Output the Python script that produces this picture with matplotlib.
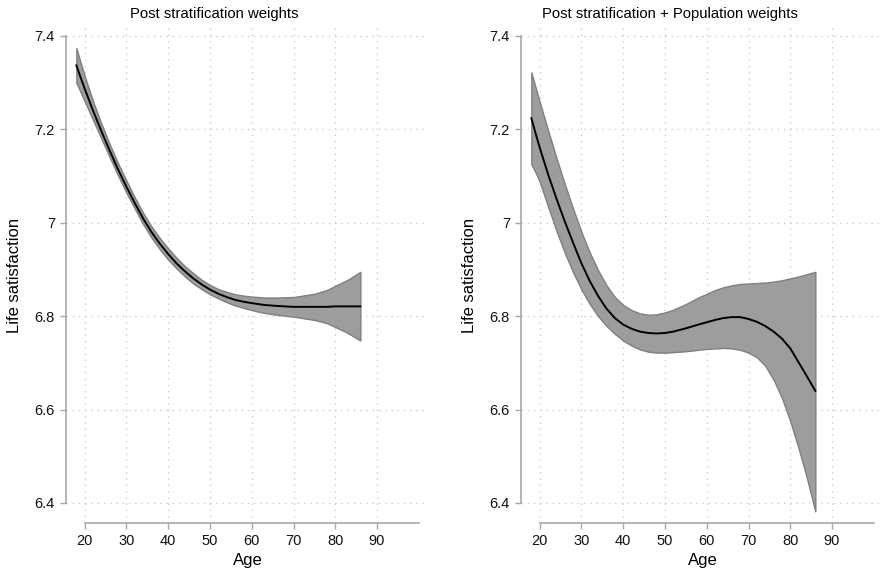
import matplotlib
matplotlib.use("Agg")
import matplotlib.pyplot as plt

plt.rcParams['font.family'] = ['Liberation Sans', 'DejaVu Sans']

# Panel 1: post stratification weights
age_l = [18, 20, 22, 24, 26, 28, 30, 32, 34, 36, 38, 40, 42, 44, 46, 48, 50,
         52, 54, 56, 58, 60, 63, 66, 70, 75, 78, 80, 83, 86]
fit_l = [7.337, 7.287, 7.240, 7.196, 7.154, 7.114, 7.077, 7.042, 7.009, 6.980,
         6.955, 6.933, 6.913, 6.896, 6.881, 6.868, 6.857, 6.848, 6.841, 6.835,
         6.831, 6.828, 6.824, 6.822, 6.820, 6.820, 6.820, 6.821, 6.821, 6.821]
hi_l = [7.374, 7.314, 7.260, 7.212, 7.168, 7.127, 7.090, 7.054, 7.021, 6.992,
        6.967, 6.945, 6.925, 6.907, 6.892, 6.878, 6.867, 6.858, 6.852, 6.847,
        6.844, 6.842, 6.840, 6.840, 6.841, 6.848, 6.856, 6.865, 6.878, 6.895]
lo_l = [7.300, 7.260, 7.220, 7.180, 7.140, 7.101, 7.064, 7.030, 6.997, 6.968,
        6.943, 6.921, 6.902, 6.885, 6.870, 6.858, 6.847, 6.838, 6.830, 6.823,
        6.818, 6.813, 6.807, 6.803, 6.799, 6.792, 6.785, 6.777, 6.764, 6.748]

# Panel 2: post stratification + population weights
age_r = [18, 19, 20, 22, 24, 26, 28, 30, 32, 34, 36, 38, 40, 42, 44, 46, 48,
         50, 52, 55, 58, 60, 62, 64, 66, 68, 70, 72, 74, 76, 78, 80, 82, 84, 86]
fit_r = [7.224, 7.192, 7.161, 7.104, 7.052, 7.003, 6.957, 6.913, 6.875, 6.843,
         6.816, 6.796, 6.782, 6.773, 6.767, 6.764, 6.763, 6.764, 6.767, 6.774,
         6.782, 6.787, 6.792, 6.796, 6.798, 6.798, 6.794, 6.788, 6.779, 6.767,
         6.752, 6.731, 6.701, 6.671, 6.640]
hi_r = [7.322, 7.290, 7.259, 7.198, 7.139, 7.083, 7.030, 6.980, 6.936, 6.898,
        6.866, 6.841, 6.824, 6.813, 6.806, 6.803, 6.804, 6.808, 6.814, 6.826,
        6.840, 6.848, 6.856, 6.862, 6.866, 6.869, 6.870, 6.871, 6.872, 6.874,
        6.877, 6.881, 6.885, 6.890, 6.895]
lo_r = [7.126, 7.108, 7.088, 7.035, 6.983, 6.936, 6.894, 6.857, 6.826, 6.800,
        6.779, 6.762, 6.748, 6.737, 6.729, 6.724, 6.722, 6.722, 6.723, 6.725,
        6.728, 6.730, 6.731, 6.732, 6.731, 6.728, 6.722, 6.712, 6.694, 6.664,
        6.625, 6.575, 6.517, 6.453, 6.382]

titles = ['Post stratification weights', 'Post stratification + Population weights']
xticks = [20, 30, 40, 50, 60, 70, 80, 90]
yticks = [6.4, 6.6, 6.8, 7.0, 7.2, 7.4]
ylabels = ['6.4', '6.6', '6.8', '7', '7.2', '7.4']

fig = plt.figure(figsize=(8.83, 5.71), dpi=100)
panels = [(age_l, fit_l, hi_l, lo_l), (age_r, fit_r, hi_r, lo_r)]
lefts = [66 / 883, 521 / 883]
title_x = [214 / 883, 669.5 / 883]

for i, (age, fit, hi, lo) in enumerate(panels):
    ax = fig.add_axes([lefts[i], 1 - 522.7 / 571, 362 / 883, 494.7 / 571])
    ax.fill_between(age, lo, hi, facecolor='#9c9d9c', edgecolor='#7f7f7f',
                    linewidth=1.0, zorder=2)
    ax.plot(age, fit, color='black', linewidth=1.4, zorder=3)
    ax.set_xlim(15.52, 102.2)
    ax.set_ylim(6.3578, 7.4171)
    ax.set_xticks(xticks)
    ax.set_yticks(yticks)
    ax.set_yticklabels(ylabels)
    ax.grid(True, linestyle=(0, (1, 4)), color='#c4c4c4', linewidth=0.9)
    ax.set_axisbelow(True)
    for s in ['top', 'right']:
        ax.spines[s].set_visible(False)
    ax.spines['bottom'].set_bounds(20, 100)
    ax.spines['left'].set_bounds(6.4, 7.4)
    for s in ['bottom', 'left']:
        ax.spines[s].set_color('#a8a8a8')
        ax.spines[s].set_linewidth(1.2)
    ax.tick_params(direction='out', length=4, width=1, color='#a8a8a8',
                   labelsize=10.5, labelcolor='#111111', pad=4)
    ax.set_xlabel('Age', fontsize=12)
    ax.set_ylabel('Life satisfaction', fontsize=12)
    ax.xaxis.set_label_coords(0.502, -0.062)
    ax.yaxis.set_label_coords(-0.1215, 0.5)
    fig.text(title_x[i], 1 - 14 / 571, titles[i], ha='center', va='center',
             fontsize=10.7)

fig.savefig('out.png', dpi=100)
